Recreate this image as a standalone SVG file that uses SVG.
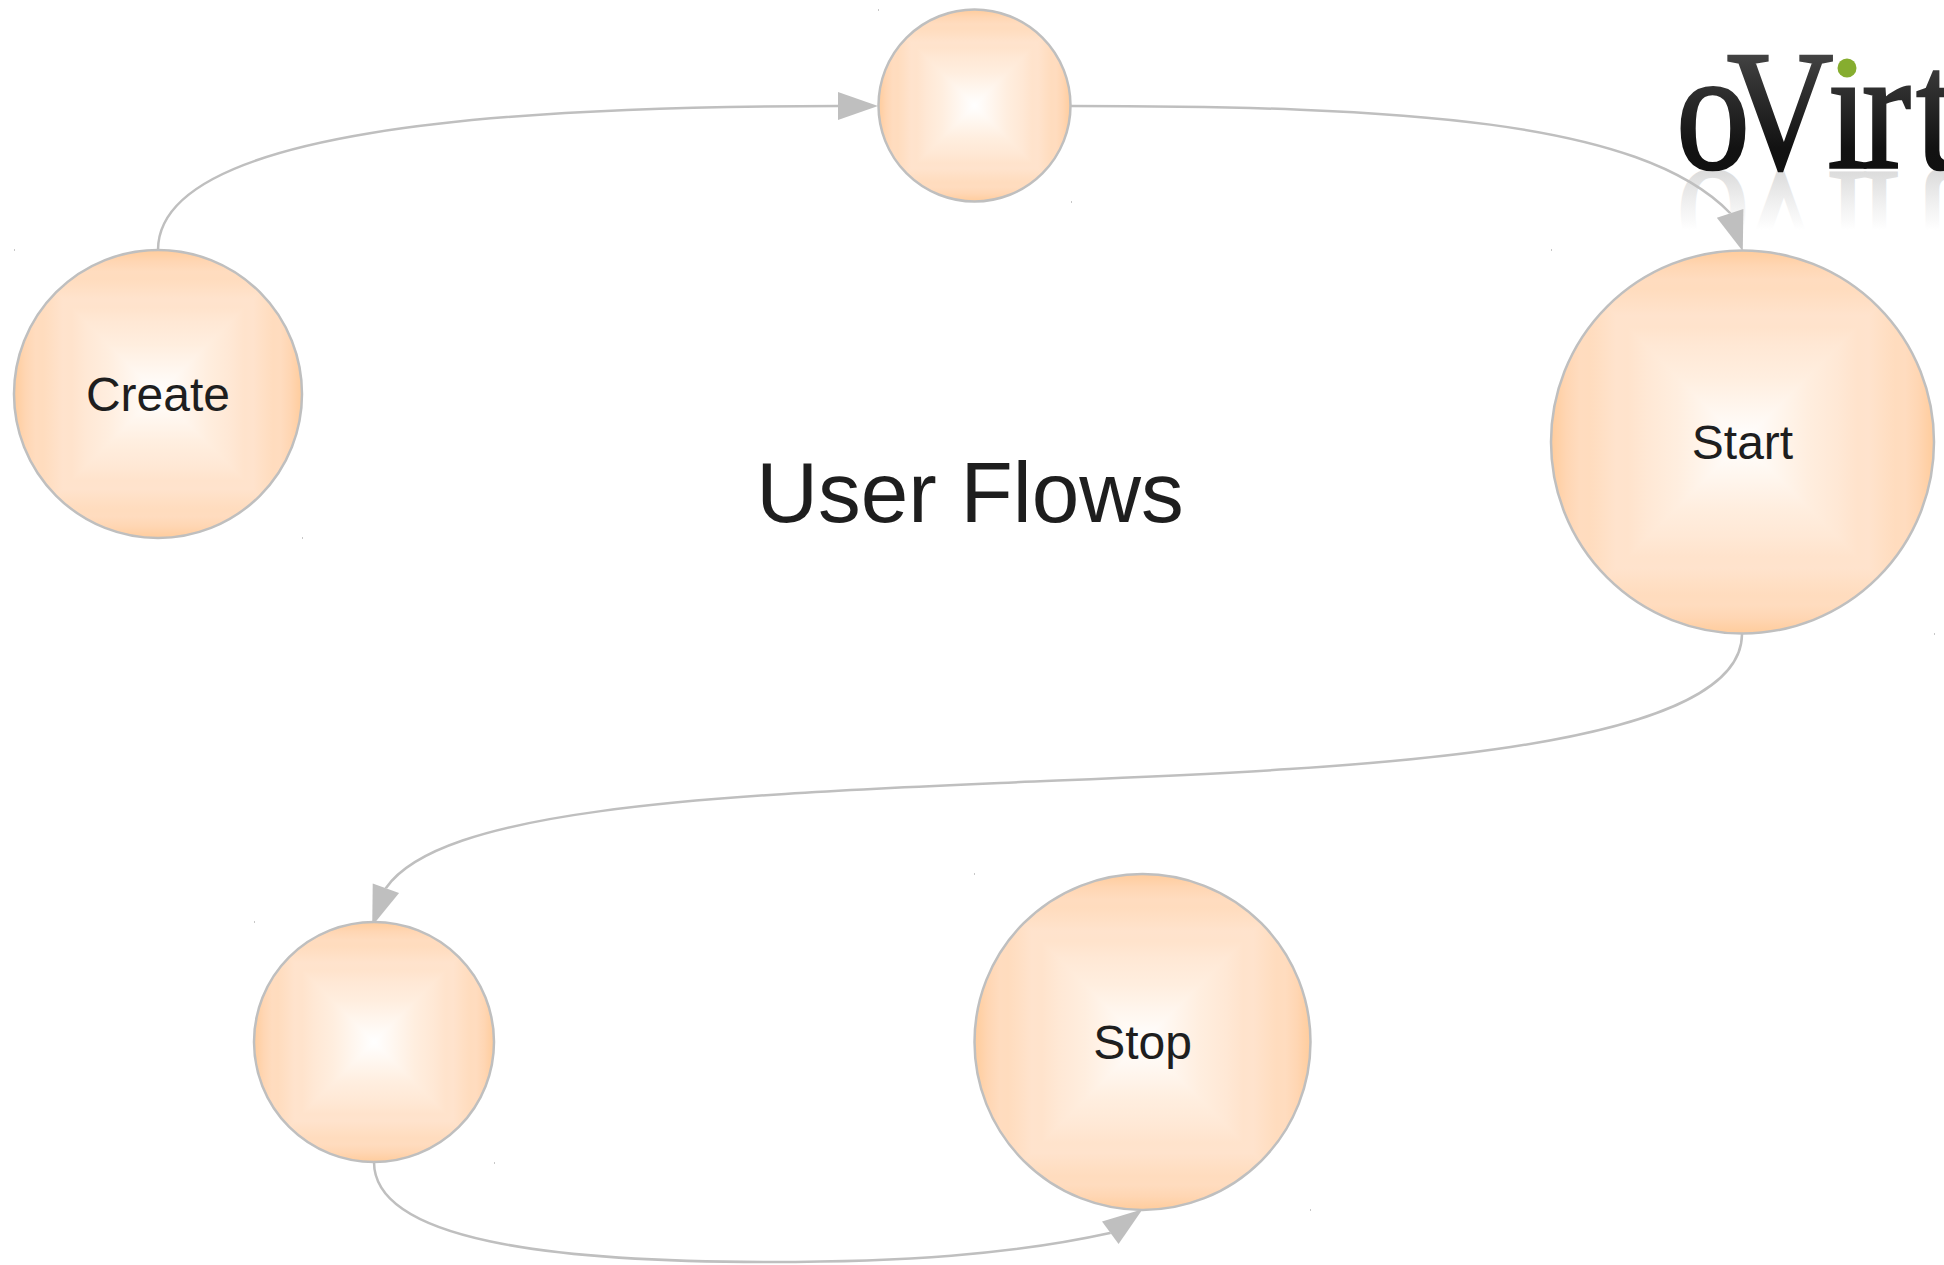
<svg xmlns="http://www.w3.org/2000/svg" width="1944" height="1265" viewBox="0 0 1944 1265">
<style>
.lbl{font-family:"Liberation Sans",Arial,sans-serif;font-size:48px;fill:#1e1e1e;text-anchor:middle}
.title{font-family:"Liberation Sans",Arial,sans-serif;font-size:85.5px;fill:#1e1e1e;text-anchor:middle}
.ring{fill:none;stroke:#bfbfbf;stroke-width:2.5}
.conn{fill:none;stroke:#bfbfbf;stroke-width:2.5;marker-end:url(#arrow)}
.logo{font-family:"Liberation Serif","Times New Roman",serif;font-size:172px}
.speck{fill:#c8c8c8}
</style>
<defs>
<marker id="arrow" markerUnits="userSpaceOnUse" markerWidth="42" markerHeight="30" refX="0" refY="15" orient="auto" viewBox="0 0 42 30" overflow="visible">
<path d="M0 1L40 15L0 29Z" fill="#bfbfbf"/>
</marker>
<linearGradient id="gR" gradientUnits="userSpaceOnUse" x1="0" y1="0" x2="1" y2="0">
<stop offset="0" stop-color="#fff"/><stop offset=".18" stop-color="#fff6ee"/><stop offset=".34" stop-color="#ffeedf"/><stop offset=".5" stop-color="#ffe8d5"/><stop offset=".6" stop-color="#ffe3cc"/><stop offset=".66" stop-color="#ffe3cd"/><stop offset=".74" stop-color="#ffdfc4"/><stop offset=".8" stop-color="#ffdcbe"/><stop offset=".85" stop-color="#ffdcbf"/><stop offset=".92" stop-color="#ffd6b3"/><stop offset="1" stop-color="#ffcc9c"/>
</linearGradient>
<clipPath id="unit"><circle r="1"/></clipPath>
<g id="sq" clip-path="url(#unit)">
<rect x="-1" y="-1" width="2" height="2" fill="#ffe4cf"/>
<polygon points="-.004,0 1,-1.004 1,1.004" fill="url(#gR)"/>
<polygon points="-.004,0 1,-1.004 1,1.004" fill="url(#gR)" transform="rotate(90)"/>
<polygon points="-.004,0 1,-1.004 1,1.004" fill="url(#gR)" transform="rotate(180)"/>
<polygon points="-.004,0 1,-1.004 1,1.004" fill="url(#gR)" transform="rotate(270)"/>
</g>
<linearGradient id="logoG" x1="0" y1="0" x2="0" y2="1">
<stop offset="0" stop-color="#5a5a5a"/><stop offset=".35" stop-color="#333"/><stop offset=".7" stop-color="#121212"/><stop offset="1" stop-color="#101010"/>
</linearGradient>
<linearGradient id="logoR" gradientUnits="userSpaceOnUse" x1="0" y1="0" x2="0" y2="-58">
<stop offset="0" stop-color="#dcdcdc"/><stop offset=".5" stop-color="#efefef"/><stop offset="1" stop-color="#fff"/>
</linearGradient>
</defs>
<rect width="1944" height="1265" fill="#fff"/>
<g id="logo">
<g transform="translate(0,344) scale(1,-1)">
<text class="logo" fill="url(#logoR)" stroke="url(#logoR)" stroke-width="2" transform="translate(1676,172) scale(.86,1)" x="0 59 176 216 279" y="0">oVirt</text>
</g>
<text class="logo" fill="url(#logoG)" stroke="url(#logoG)" stroke-width="2.5" transform="translate(1676,168) scale(.86,1)" x="0 59 176 216 279" y="0">oVirt</text>
<circle cx="1849" cy="60" r="12" fill="#fff"/>
<circle cx="1847" cy="68" r="9.5" fill="#86ad2f"/>
</g>
<g id="connectors">
<path class="conn" d="M158 250C158 130 500 106 838 106"/>
<path class="conn" d="M1071 106C1400 106 1640 120 1730 213l.12 .36"/>
<path class="conn" d="M1742 634C1742 760 1300 770 1000 783C700 796 440 810 386 888l-.12 .33"/>
<path class="conn" d="M374 1162C374 1240 550 1262 770 1262C900 1262 1010 1255 1110 1233l.3 -.22"/>
</g>
<g id="create"><use href="#sq" transform="translate(158,394) scale(144)"/><circle class="ring" cx="158" cy="394" r="144"/><text class="lbl" x="158" y="411">Create</text></g>
<g id="top"><use href="#sq" transform="translate(974.5,105.5) scale(96)"/><circle class="ring" cx="974.5" cy="105.5" r="96"/></g>
<g id="start"><use href="#sq" transform="translate(1742.5,442) scale(191.5)"/><circle class="ring" cx="1742.5" cy="442" r="191.5"/><text class="lbl" x="1742.5" y="459">Start</text></g>
<g id="lower"><use href="#sq" transform="translate(374,1042) scale(120)"/><circle class="ring" cx="374" cy="1042" r="120"/></g>
<g id="stop"><use href="#sq" transform="translate(1142.5,1042) scale(168)"/><circle class="ring" cx="1142.5" cy="1042" r="168"/><text class="lbl" x="1142.5" y="1059">Stop</text></g>
<text class="title" x="970" y="522">User Flows</text>
<g id="specks">
<rect class="speck" x="14" y="249" width="1" height="2"/><rect class="speck" x="302" y="537" width="1" height="2"/>
<rect class="speck" x="878" y="9" width="1" height="2"/><rect class="speck" x="1071" y="201" width="1" height="2"/>
<rect class="speck" x="1551" y="249" width="1" height="2"/><rect class="speck" x="1934" y="633" width="1" height="2"/>
<rect class="speck" x="254" y="921" width="1" height="2"/><rect class="speck" x="494" y="1162" width="1" height="2"/>
<rect class="speck" x="974" y="873" width="1" height="2"/><rect class="speck" x="1310" y="1209" width="1" height="2"/>
</g>
</svg>
